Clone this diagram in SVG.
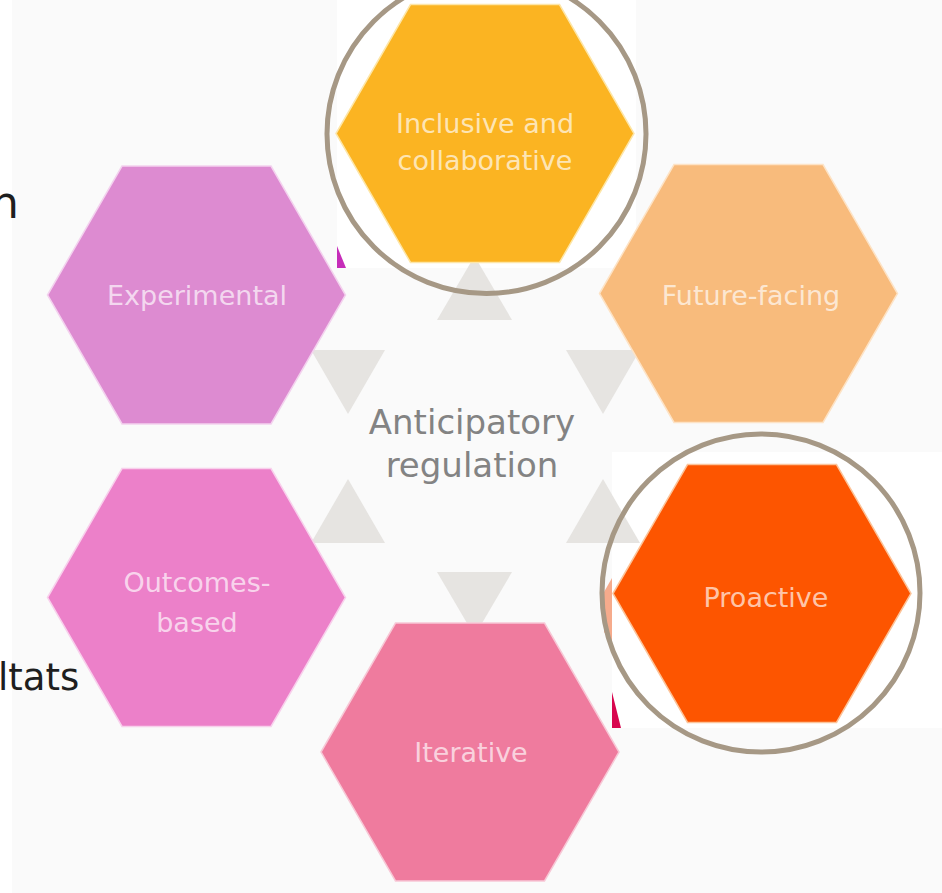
<svg xmlns="http://www.w3.org/2000/svg" xmlns:xlink="http://www.w3.org/1999/xlink" width="942" height="893" viewBox="0 0 942 893">
  <defs>
    <polygon id="hex" points="-149,0 -74.5,-129 74.5,-129 149,0 74.5,129 -74.5,129"/>
    <style>
      .lbl { font-family: "DejaVu Sans", "Liberation Sans", sans-serif; font-size: 27px; fill: #ffffff; fill-opacity: 0.68; text-anchor: middle; }
      .ctr { font-family: "DejaVu Sans", "Liberation Sans", sans-serif; font-size: 34px; fill: #838383; text-anchor: middle; }
      .side { font-family: "DejaVu Sans", "Liberation Sans", sans-serif; fill: #1e1e1e; }
      .tri { fill: #e6e4e1; }
      .ring { fill: none; stroke: #a69885; stroke-width: 5; }
      .panel { fill: #ffffff; }
    </style>
  </defs>

  <!-- background -->
  <rect x="0" y="0" width="942" height="893" fill="#fafafa"/>
  <rect x="0" y="0" width="12" height="893" fill="#ffffff"/>

  <!-- pasted panels behind highlighted nodes -->
  <g id="panels">
    <rect class="panel" x="337" y="0" width="299" height="268"/>
    <polygon points="337,246 346,268 337,268" fill="#c62db9"/>
    <polygon points="636,250 636,268 626,268" fill="#fb7d0c"/>
    <rect class="panel" x="612" y="452" width="330" height="276"/>
    <polygon points="612,692 621,728 612,728" fill="#d8064e"/>
    <polygon points="604,592 612,578 612,642 604,632" fill="#f6ab8c"/>
  </g>

  <!-- connectors (triangles around the centre) -->
  <g id="connectors">
    <polygon class="tri" points="437,320 512,320 474.5,256"/>
    <polygon class="tri" points="311,350 385,350 348,414"/>
    <polygon class="tri" points="566,350 640,350 603,414"/>
    <polygon class="tri" points="311,543 385,543 348,479"/>
    <polygon class="tri" points="566,543 640,543 603,479"/>
    <polygon class="tri" points="437,572 512,572 474.5,636"/>
  </g>

  <!-- nodes -->
  <g id="node-inclusive">
    <use xlink:href="#hex" href="#hex" x="485" y="133.5" fill="#fbb422" stroke="#fde6a8" stroke-width="1.5"/>
    <text class="lbl" x="485" y="133">Inclusive and</text>
    <text class="lbl" x="485" y="170">collaborative</text>
  </g>

  <g id="node-experimental">
    <use xlink:href="#hex" href="#hex" x="196.5" y="295" fill="#dd8bd1" stroke="#f3d2ee" stroke-width="1.5"/>
    <text class="lbl" x="197" y="305">Experimental</text>
  </g>

  <g id="node-future">
    <use xlink:href="#hex" href="#hex" x="748.5" y="293.5" fill="#f8bb7c" stroke="#fde3c6" stroke-width="1.5"/>
    <text class="lbl" x="751" y="305">Future-facing</text>
  </g>

  <g id="node-outcomes">
    <use xlink:href="#hex" href="#hex" x="196.5" y="597.5" fill="#ec80c9" stroke="#f8d0ec" stroke-width="1.5"/>
    <text class="lbl" x="197" y="592">Outcomes-</text>
    <text class="lbl" x="197" y="632">based</text>
  </g>

  <g id="node-proactive">
    <use xlink:href="#hex" href="#hex" x="762" y="593.5" fill="#fd5500" stroke="#fcc49a" stroke-width="1.5"/>
    <text class="lbl" x="766" y="607">Proactive</text>
  </g>

  <g id="node-iterative">
    <use xlink:href="#hex" href="#hex" x="470" y="752" fill="#ef7b9e" stroke="#f7c8d6" stroke-width="1.5"/>
    <text class="lbl" x="471" y="762">Iterative</text>
  </g>

  <g id="node-center">
    <text class="ctr" x="472" y="434">Anticipatory</text>
    <text class="ctr" x="472" y="477">regulation</text>
  </g>

  <!-- highlight rings -->
  <g id="highlights">
    <circle class="ring" cx="486.5" cy="134" r="159.5"/>
    <circle class="ring" cx="761" cy="593" r="159"/>
  </g>

  <!-- cut-off slide text at left edge -->
  <g id="side-text">
    <text class="side" x="19" y="218" font-size="44" text-anchor="end">n</text>
    <text class="side" x="-2" y="690" font-size="37">ltats</text>
  </g>
</svg>
